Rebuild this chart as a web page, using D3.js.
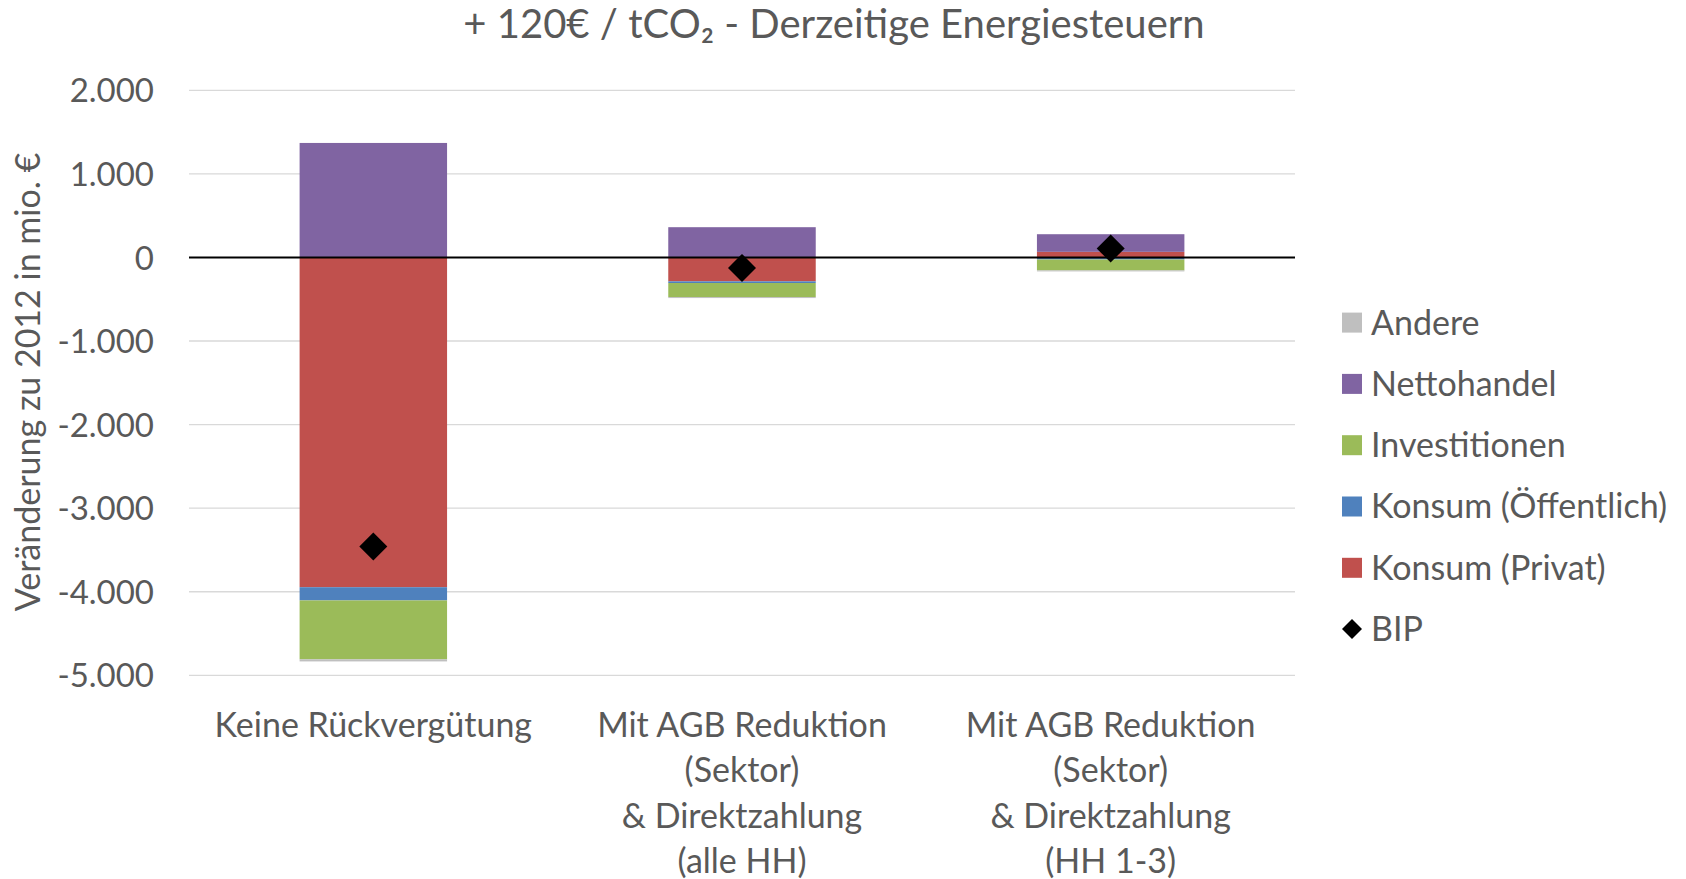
<!DOCTYPE html>
<html>
<head>
<meta charset="utf-8">
<script src="https://cdn.jsdelivr.net/npm/d3@7"></script>
<style>
  body { margin: 0; background: #fff; }
  svg text { font-family: Lato, "Open Sans", sans-serif; fill: #595959; }
</style>
</head>
<body>
<svg id="chart"></svg>
<script>
const categories = [
    ["Keine Rückvergütung"],
    ["Mit AGB Reduktion", "(Sektor)", "& Direktzahlung", "(alle HH)"],
    ["Mit AGB Reduktion", "(Sektor)", "& Direktzahlung", "(HH 1-3)"]
];
const konsumPrivat = [-3946, -286, 67];
const konsumOeffentlich = [-158, -20, -25];
const investitionen = [-705, -168, -130];
const nettohandel = [1370, 362, 211];
const andere = [-25, -12, -12];
const bip = [-3460, -125, 108];
const yTicks = [2000, 1000, 0, -1000, -2000, -3000, -4000, -5000];

const width = 1686;
const height = 879;
const PLOT_LEFT = 189, PLOT_RIGHT = 1295;
const LABEL_SIZE = "34px";

// series in stacking order (closest to zero first); legend shows them reversed
const seriesDefs = [
    {key: "konsumPrivat", name: "Konsum (Privat)", color: "#C0504D", values: konsumPrivat},
    {key: "konsumOeffentlich", name: "Konsum (Öffentlich)", color: "#4F81BD", values: konsumOeffentlich},
    {key: "investitionen", name: "Investitionen", color: "#9BBB59", values: investitionen},
    {key: "nettohandel", name: "Nettohandel", color: "#8064A2", values: nettohandel},
    {key: "andere", name: "Andere", color: "#BFBFBF", values: andere}
];

const rows = categories.map((c, i) => {
    const r = {idx: i};
    seriesDefs.forEach(s => { r[s.key] = s.values[i]; });
    return r;
});

const svg = d3.select("#chart").attr("width", width).attr("height", height);

const x = d3.scaleBand()
    .domain(categories.map((c, i) => i))
    .range([PLOT_LEFT, PLOT_RIGHT])
    .paddingInner(0.6)
    .paddingOuter(0.3);

const y = d3.scaleLinear().domain([-5000, 2000]).range([675.3, 90.3]);

const locale = d3.formatLocale({decimal: ",", thousands: ".", grouping: [3], currency: ["", "€"], minus: "-"});
const fmt = locale.format(",d");

// gridlines
svg.append("g")
    .selectAll("line")
    .data(yTicks.filter(t => t !== 0))
    .enter().append("line")
    .attr("x1", PLOT_LEFT).attr("x2", PLOT_RIGHT)
    .attr("y1", d => y(d)).attr("y2", d => y(d))
    .attr("stroke", "#D9D9D9").attr("stroke-width", 1.3);

const yAxis = svg.append("g")
    .attr("transform", `translate(${PLOT_LEFT},0)`)
    .call(d3.axisLeft(y).tickValues(yTicks).tickFormat(fmt).tickSize(0).tickPadding(35));
yAxis.select(".domain").remove();
yAxis.selectAll("text").style("font-size", "33px").style("fill", "#595959")
    .style("font-family", "Lato, 'Open Sans', sans-serif")
    .attr("dy", "0.35em");

// stacked bars
const stack = d3.stack()
    .keys(seriesDefs.map(s => s.key))
    .offset(d3.stackOffsetDiverging);
const stacked = stack(rows);

svg.append("g")
    .selectAll("g")
    .data(stacked)
    .enter().append("g")
    .attr("fill", (d, i) => seriesDefs[i].color)
    .selectAll("rect")
    .data(d => d)
    .enter().append("rect")
    .attr("x", d => x(d.data.idx))
    .attr("width", x.bandwidth())
    .attr("y", d => y(Math.max(d[0], d[1])))
    .attr("height", d => Math.abs(y(d[0]) - y(d[1])));

// zero line
svg.append("line")
    .attr("x1", PLOT_LEFT).attr("x2", PLOT_RIGHT)
    .attr("y1", y(0)).attr("y2", y(0))
    .attr("stroke", "#000").attr("stroke-width", 2);

// BIP markers
const diamond = d3.symbol().type(d3.symbolSquare).size(392);
svg.append("g")
    .selectAll("path")
    .data(bip)
    .enter().append("path")
    .attr("d", diamond)
    .attr("fill", "#000")
    .attr("transform", (d, i) => `translate(${x(i) + x.bandwidth() / 2},${y(d)}) rotate(45)`);

// category labels
const catLabel = svg.append("g")
    .selectAll("text")
    .data(categories)
    .enter().append("text")
    .attr("text-anchor", "middle")
    .attr("x", (d, i) => x(i) + x.bandwidth() / 2)
    .attr("y", 737)
    .style("font-size", LABEL_SIZE);
catLabel.selectAll("tspan")
    .data(d => d)
    .enter().append("tspan")
    .attr("x", function () { return d3.select(this.parentNode).attr("x"); })
    .attr("dy", (d, i) => i === 0 ? 0 : 45.3)
    .text(d => d);

// title
svg.append("text")
    .attr("x", 834).attr("y", 38)
    .attr("text-anchor", "middle")
    .style("font-size", "40px")
    .text("+ 120€ / tCO₂ - Derzeitige Energiesteuern");

// y axis title
svg.append("text")
    .attr("transform", "translate(40,382) rotate(-90)")
    .attr("text-anchor", "middle")
    .style("font-size", LABEL_SIZE)
    .text("Veränderung zu 2012 in mio. €");

// legend
const legendItems = seriesDefs.slice().reverse().map(s => ({name: s.name, color: s.color, type: "rect"}));
legendItems.push({name: "BIP", color: "#000", type: "diamond"});

const legend = svg.append("g")
    .selectAll("g")
    .data(legendItems)
    .enter().append("g")
    .attr("transform", (d, i) => `translate(1342,${322.6 + i * 61.3})`);
legend.filter(d => d.type === "rect").append("rect")
    .attr("x", 0).attr("y", -10).attr("width", 20).attr("height", 20)
    .attr("fill", d => d.color);
legend.filter(d => d.type === "diamond").append("path")
    .attr("d", d3.symbol().type(d3.symbolSquare).size(200))
    .attr("transform", "translate(10,0) rotate(45)")
    .attr("fill", "#000");
legend.append("text")
    .attr("x", 29).attr("dy", "0.35em")
    .style("font-size", LABEL_SIZE)
    .text(d => d.name);
</script>
</body>
</html>
